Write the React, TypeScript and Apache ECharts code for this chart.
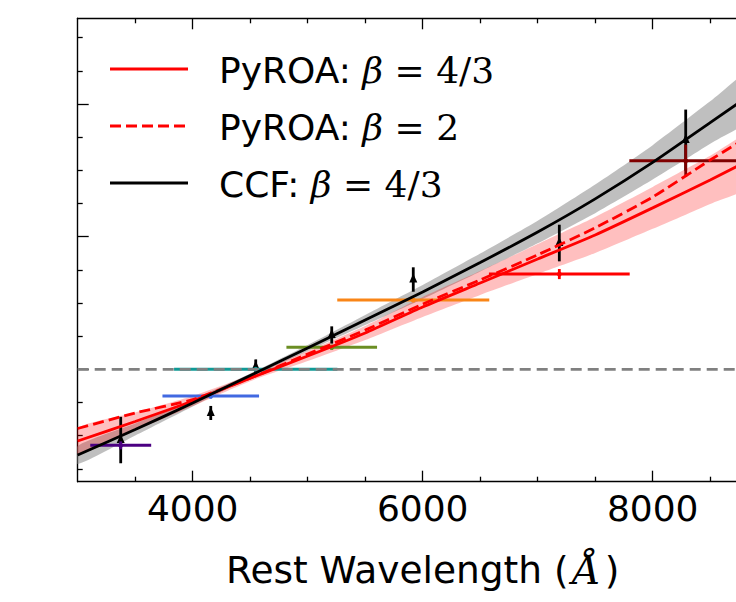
import React, { useEffect, useRef } from "react";
import * as echarts from "echarts";

// ---- band measurements (PyROA coloured bars, CCF black points) ----
const bandColors = ["#4b0082", "#4169e1", "#0f9a96", "#6b8e23", "#f98517", "#ff0000", "#800000"];
const bandCentre = [3374, 4157, 4548, 5209, 5918, 7188, 8287];
const bandHalfWidth = [265, 420, 710, 394, 661, 612, 490];
const pyroaLag = [-0.573, -0.201, 0, 0.166, 0.522, 0.718, 1.572];
const pyroaErr = [0.03, 0.02, 0, 0.02, 0.015, 0.038, 0.122];
const ccfLag = [-0.533, -0.329, 0.02, 0.259, 0.677, 0.952, 1.728];
const ccfErr = [0.175, 0.053, 0.055, 0.065, 0.092, 0.138, 0.23];

// ---- model curves ----
const modelWave = [3000, 3500, 4000, 4500, 5000, 5500, 6000, 6500, 7000, 7500, 8000, 8500, 9000];
const ccfFit = [-0.646, -0.454, -0.254, -0.047, 0.161, 0.372, 0.583, 0.805, 1.035, 1.285, 1.56, 1.86, 2.16];
const ccfFitHalf = [0.068, 0.045, 0.026, 0.015, 0.023, 0.038, 0.053, 0.068, 0.085, 0.108, 0.13, 0.16, 0.19];
const pyroaFit43 = [-0.54, -0.393, -0.239, -0.066, 0.1, 0.274, 0.47, 0.651, 0.832, 1.013, 1.217, 1.428, 1.647];
const pyroaFit43Half = [0.098, 0.068, 0.038, 0.023, 0.038, 0.053, 0.075, 0.09, 0.113, 0.136, 0.158, 0.181, 0.204];
const pyroaFit2 = [-0.446, -0.329, -0.228, -0.066, 0.115, 0.296, 0.492, 0.674, 0.863, 1.067, 1.299, 1.578, 1.842];

// ---- axes ----
const xMajorTicks = [4000, 6000, 8000];
const xMinorTicks = [3500, 4500, 5000, 5500, 6500, 7000, 7500, 8500];
const yMajorTicks = [0, 1, 2];
const yMinorTicks = [-0.75, -0.5, -0.25, 0.25, 0.5, 0.75, 1.25, 1.5, 1.75, 2.25, 2.5];
const X_MIN = 3000;
const X_MAX = 9000;
const Y_MIN = -0.847;
const Y_MAX = 2.646;
const xAxisTitle = "Rest Wavelength ({i|Å})";
const legendEntries = [
  { name: "PyROA", beta: "4/3", color: "#ff0000", dash: false },
  { name: "PyROA", beta: "2", color: "#ff0000", dash: true },
  { name: "CCF", beta: "4/3", color: "#000000", dash: false },
];

const SANS = "DejaVu Sans";
const SERIF = "DejaVu Serif";
const CHART_W = 780;

function bandSeries(lo: number[], hi: number[], fill: string) {
  return {
    type: "custom",
    xAxisIndex: 0,
    yAxisIndex: 0,
    clip: true,
    silent: true,
    data: [[modelWave[0], lo[0], hi[0]]],
    renderItem: (_p: any, api: any) => {
      const pts: number[][] = [];
      for (let i = 0; i < modelWave.length; i++) pts.push(api.coord([modelWave[i], hi[i]]));
      for (let i = modelWave.length - 1; i >= 0; i--) pts.push(api.coord([modelWave[i], lo[i]]));
      return { type: "polygon", shape: { points: pts, smooth: 0.2 }, style: { fill } };
    },
  };
}

function axisBase(extra: any) {
  return {
    type: "value",
    gridIndex: 0,
    splitLine: { show: false },
    axisLabel: { show: false },
    ...extra,
  };
}

export default function App() {
  const ref = useRef<HTMLDivElement>(null);
  useEffect(() => {
    const chart = echarts.init(ref.current!, null, { renderer: "svg" });
    const tickStyle = { color: "#000", width: 1.3 };
    const lineStyleAxis = { color: "#000", width: 1.4 };
    const xCommon = { min: X_MIN, max: X_MAX };
    const yCommon = { min: Y_MIN, max: Y_MAX };

    const ccfLo = ccfFit.map((v, i) => v - ccfFitHalf[i]);
    const ccfHi = ccfFit.map((v, i) => v + ccfFitHalf[i]);
    const pyLo = pyroaFit43.map((v, i) => v - pyroaFit43Half[i]);
    const pyHi = pyroaFit43.map((v, i) => v + pyroaFit43Half[i]);

    const legendGraphics: any[] = [];
    legendEntries.forEach((e, i) => {
      const y = 69 + i * 57;
      legendGraphics.push({
        type: "line",
        shape: { x1: 110, y1: y, x2: 188, y2: y },
        style: { stroke: e.color, lineWidth: 3, lineDash: e.dash ? [11, 5] : null },
      });
      legendGraphics.push({
        type: "text",
        x: 219,
        y: y + 1,
        style: {
          text: `{s|${e.name}: }{g|β}{m| = ${e.beta}}`,
          verticalAlign: "middle",
          fill: "#000",
          rich: {
            s: { fontFamily: SANS, fontSize: 36, fill: "#000" },
            g: { fontFamily: SERIF, fontStyle: "italic", fontSize: 36, fill: "#000" },
            m: { fontFamily: SERIF, fontSize: 36, fill: "#000" },
          },
        },
      });
    });

    const option: any = {
      animation: false,
      backgroundColor: "#fff",
      grid: { left: 77.7, right: CHART_W - 767.7, top: 18.3, bottom: 120.3, containLabel: false },
      xAxis: [
        axisBase({
          ...xCommon,
          position: "bottom",
          axisLine: { show: true, onZero: false, lineStyle: lineStyleAxis },
          axisTick: { show: true, inside: true, length: 11, customValues: xMajorTicks, lineStyle: tickStyle },
          axisLabel: {
            show: true,
            customValues: xMajorTicks,
            formatter: (v: number) => String(v),
            margin: 9,
            fontSize: 36,
            fontFamily: SANS,
            color: "#000",
          },
          name: xAxisTitle,
          nameLocation: "middle",
          nameGap: 69,
          nameTextStyle: {
            fontSize: 37.5,
            fontFamily: SANS,
            color: "#000",
            rich: { i: { fontSize: 39, fontFamily: SERIF, fontStyle: "italic", color: "#000", padding: [0, 4, 0, 4] } },
          },
        }),
        axisBase({
          ...xCommon,
          position: "bottom",
          axisLine: { show: false, onZero: false },
          axisTick: { show: true, inside: true, length: 5, customValues: xMinorTicks, lineStyle: tickStyle },
        }),
        axisBase({
          ...xCommon,
          position: "top",
          axisLine: { show: true, onZero: false, lineStyle: lineStyleAxis },
          axisTick: { show: true, inside: true, length: 11, customValues: xMajorTicks, lineStyle: tickStyle },
        }),
        axisBase({
          ...xCommon,
          position: "top",
          axisLine: { show: false, onZero: false },
          axisTick: { show: true, inside: true, length: 5, customValues: xMinorTicks, lineStyle: tickStyle },
        }),
      ],
      yAxis: [
        axisBase({
          ...yCommon,
          position: "left",
          axisLine: { show: true, onZero: false, lineStyle: lineStyleAxis },
          axisTick: { show: true, inside: true, length: 11, customValues: yMajorTicks, lineStyle: tickStyle },
        }),
        axisBase({
          ...yCommon,
          position: "left",
          axisLine: { show: false, onZero: false },
          axisTick: { show: true, inside: true, length: 5, customValues: yMinorTicks, lineStyle: tickStyle },
        }),
      ],
      graphic: legendGraphics,
      series: [
        bandSeries(ccfLo, ccfHi, "rgba(128,128,128,0.5)"),
        bandSeries(pyLo, pyHi, "rgba(255,0,0,0.25)"),
        {
          type: "line",
          silent: true,
          data: [[X_MIN, 0], [X_MAX, 0]],
          showSymbol: false,
          lineStyle: { color: "#808080", width: 2.8, type: [11, 6] },
        },
        {
          type: "line",
          silent: true,
          data: modelWave.map((w, i) => [w, pyroaFit43[i]]),
          showSymbol: false,
          smooth: 0.2,
          lineStyle: { color: "#ff0000", width: 2.8 },
        },
        {
          type: "line",
          silent: true,
          data: modelWave.map((w, i) => [w, pyroaFit2[i]]),
          showSymbol: false,
          smooth: 0.2,
          lineStyle: { color: "#ff0000", width: 2.8, type: [11, 5] },
        },
        {
          type: "line",
          silent: true,
          data: modelWave.map((w, i) => [w, ccfFit[i]]),
          showSymbol: false,
          smooth: 0.2,
          lineStyle: { color: "#000000", width: 2.8 },
        },
        {
          type: "custom",
          silent: true,
          data: bandCentre.map((w, i) => [w, ccfLag[i], ccfErr[i]]),
          renderItem: (_p: any, api: any) => {
            const w = api.value(0);
            const v = api.value(1);
            const e = api.value(2);
            const top = api.coord([w, v + e]);
            const bot = api.coord([w, v - e]);
            const c = api.coord([w, v]);
            return {
              type: "group",
              children: [
                { type: "line", shape: { x1: top[0], y1: top[1], x2: bot[0], y2: bot[1] }, style: { stroke: "#000", lineWidth: 2.8 } },
                {
                  type: "polygon",
                  shape: { points: [[c[0], c[1] - 6], [c[0] - 4, c[1] + 3], [c[0] + 4, c[1] + 3]] },
                  style: { fill: "#000" },
                },
              ],
            };
          },
        },
        {
          type: "custom",
          silent: true,
          data: bandCentre.map((w, i) => [w, pyroaLag[i], bandHalfWidth[i], pyroaErr[i], i]),
          renderItem: (_p: any, api: any) => {
            const w = api.value(0);
            const v = api.value(1);
            const hw = api.value(2);
            const e = api.value(3);
            const col = bandColors[api.value(4)];
            const l = api.coord([w - hw, v]);
            const r = api.coord([w + hw, v]);
            const t = api.coord([w, v + e]);
            const b = api.coord([w, v - e]);
            const c = api.coord([w, v]);
            return {
              type: "group",
              children: [
                { type: "line", shape: { x1: l[0], y1: l[1], x2: r[0], y2: r[1] }, style: { stroke: col, lineWidth: 3 } },
                { type: "line", shape: { x1: t[0], y1: t[1], x2: b[0], y2: b[1] }, style: { stroke: col, lineWidth: 2.8 } },
                { type: "circle", shape: { cx: c[0], cy: c[1], r: 2.5 }, style: { fill: col } },
              ],
            };
          },
        },
      ],
    };
    chart.setOption(option);
    return () => chart.dispose();
  }, []);
  return (
    <div style={{ position: "fixed", left: 0, top: 0, width: 736, height: 602, overflow: "hidden", background: "#fff" }}>
      <div ref={ref} style={{ width: CHART_W, height: 602 }} />
    </div>
  );
}
